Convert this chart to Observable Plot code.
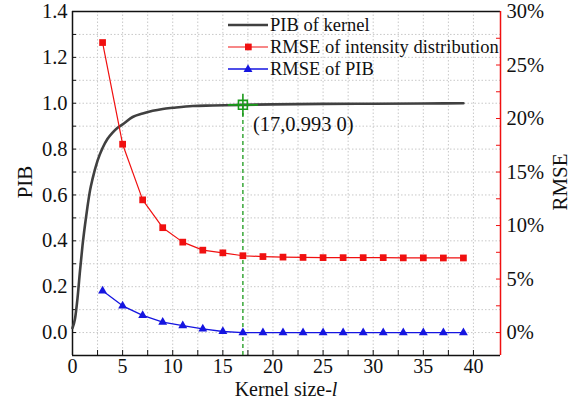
<!DOCTYPE html>
<html><head><meta charset="utf-8">
<script src="https://cdn.jsdelivr.net/npm/d3@7"></script>
<script src="https://cdn.jsdelivr.net/npm/@observablehq/plot@0.6"></script>
<style>
body{margin:0;background:#fff;}
#wrap{position:relative;width:574px;height:400px;font-family:"Liberation Serif","Times New Roman",serif;color:#111;}
#xlabel{position:absolute;left:72px;width:428px;top:379px;text-align:center;font-size:20px;line-height:20px;}
.ytitle{position:absolute;font-size:21px;line-height:21px;white-space:nowrap;transform:translate(-50%,-50%) rotate(-90deg);}
#legend{position:absolute;left:226px;top:14px;font-size:18.5px;}
.row{display:flex;align-items:center;height:22px;white-space:nowrap;}
.row svg{margin-right:2px;}
</style></head><body><div id="wrap">
<div id="xlabel">Kernel size-<i>l</i></div>
<div class="ytitle" style="left:25px;top:182px;">PIB</div>
<div class="ytitle" style="left:560px;top:182px;">RMSE</div>
<div id="legend"></div></div>
<script>
// PIB of kernel (continuous curve)
const pibX = [0, 0.25, 0.5, 0.75, 1, 1.25, 1.5, 1.75, 2, 2.5, 3, 3.5, 4, 4.5, 5, 6, 7, 8, 9, 10, 12, 14, 17, 20, 25, 30, 35, 39];
const pibY = [0.02, 0.06, 0.15, 0.27, 0.38, 0.47, 0.55, 0.62, 0.67, 0.75, 0.805, 0.845, 0.872, 0.893, 0.908, 0.94, 0.955, 0.967, 0.975, 0.98, 0.988, 0.99, 0.993, 0.995, 0.997, 0.998, 0.999, 1.0];
// RMSE series (percent), kernel sizes 3..39
const kernelSizes = [3, 5, 7, 9, 11, 13, 15, 17, 19, 21, 23, 25, 27, 29, 31, 33, 35, 37, 39];
const rmseIntensity = [27.1, 17.6, 12.4, 9.8, 8.45, 7.7, 7.45, 7.18, 7.1, 7.05, 7.02, 7.0, 7.0, 7.0, 7.0, 6.98, 6.98, 6.97, 6.97];
const rmsePIB = [3.9, 2.5, 1.6, 0.97, 0.64, 0.35, 0.1, 0.0, 0.0, 0.0, 0.0, 0.0, 0.0, 0.0, 0.0, 0.0, 0.0, 0.0, 0.0];
// ticks
const xTicks = [0, 5, 10, 15, 20, 25, 30, 35, 40];
const xMinor = [2.5, 7.5, 12.5, 17.5, 22.5, 27.5, 32.5, 37.5];
const leftTicks = [0, 0.2, 0.4, 0.6, 0.8, 1.0, 1.2, 1.4];
const leftMinor = [0.1, 0.3, 0.5, 0.7, 0.9, 1.1, 1.3];
const rightTicks = [0, 5, 10, 15, 20, 25, 30];
const rightMinor = [2.5, 7.5, 12.5, 17.5, 22.5, 27.5];
const xDomain = [0, 42.7];
const yDomain = [-0.1, 1.4];
const rightMax = 30; // 30% aligns with 1.4
const annotation = [{x: 17, y: 0.993, label: "(17,0.993 0)"}];
const legendLabels = ["PIB of kernel", "RMSE of intensity distribution", "RMSE of PIB"];

const toLeft = p => p * yDomain[1] / rightMax;
const colGray = "#404040", colRed = "#f01010", colBlue = "#1515e0", colGreen = "#1a9a1a", colGrid = "#c8c8c8";

const pib = pibX.map((x, i) => ({x, y: pibY[i]}));
const red = kernelSizes.map((x, i) => ({x, y: toLeft(rmseIntensity[i])}));
const blue = kernelSizes.map((x, i) => ({x, y: toLeft(rmsePIB[i])}));
const gridXs = xMinor.concat(xTicks.slice(1));
const gridYs = leftTicks.concat(leftMinor).filter(v => v < yDomain[1]);

const plusSymbol = {draw(ctx) { ctx.moveTo(-15, 0); ctx.lineTo(15, 0); ctx.moveTo(0, -11); ctx.lineTo(0, 11); }};
const font = {fontSize: 20.5, fontFamily: "Liberation Serif"};

const chart = Plot.plot({
  width: 574, height: 400,
  marginLeft: 72, marginRight: 74, marginTop: 11, marginBottom: 45,
  style: {fontFamily: "'Liberation Serif', 'Times New Roman', serif", background: "white", color: "#111"},
  x: {domain: xDomain},
  y: {domain: yDomain},
  marks: [
    Plot.gridX(gridXs, {stroke: colGrid, strokeOpacity: 1, strokeDasharray: "1.5,2"}),
    Plot.gridY(gridYs, {stroke: colGrid, strokeOpacity: 1, strokeDasharray: "1.5,2"}),
    // x axis
    Plot.axisX(xTicks, {tickSize: 0, tickPadding: 3, ...font, fontSize: 20, label: null}),
    Plot.axisX(xTicks.concat(xMinor), {tickSize: -5, tickFormat: () => "", label: null}),
    // left axis
    Plot.axisY(leftTicks, {anchor: "left", tickSize: 0, tickPadding: 5, tickFormat: d3.format(".1f"), ...font, label: null}),
    Plot.axisY(leftTicks.concat(leftMinor), {anchor: "left", tickSize: -4, tickFormat: () => "", label: null}),
    // right axis (RMSE %)
    Plot.axisY(rightTicks.map(toLeft), {anchor: "right", tickSize: 0, tickPadding: 6, tickFormat: d => Math.round(d * rightMax / yDomain[1]) + "%", ...font, label: null}),
    Plot.axisY(rightTicks.concat(rightMinor).map(toLeft), {anchor: "right", tickSize: -5, tickFormat: () => "", stroke: colRed, label: null}),
    // frame
    Plot.ruleY([yDomain[0]], {stroke: "#111", strokeWidth: 1.5}),
    Plot.ruleY([yDomain[1]], {stroke: "#111", strokeWidth: 1.5}),
    Plot.ruleX([xDomain[0]], {stroke: "#111", strokeWidth: 1.5}),
    Plot.ruleX([xDomain[1]], {stroke: colRed, strokeWidth: 1.5}),
    // annotation dashed line
    Plot.ruleX(annotation, {x: "x", y1: yDomain[0], y2: "y", stroke: colGreen, strokeWidth: 1.3, strokeDasharray: "4,3"}),
    // series
    Plot.line(pib, {x: "x", y: "y", stroke: colGray, strokeWidth: 2.6, curve: "monotone-x"}),
    Plot.line(red, {x: "x", y: "y", stroke: colRed, strokeWidth: 1.2}),
    Plot.dot(red, {x: "x", y: "y", symbol: "square", r: 3.8, fill: colRed, stroke: "none"}),
    Plot.line(blue, {x: "x", y: "y", stroke: colBlue, strokeWidth: 1.3}),
    Plot.dot(blue, {x: "x", y: "y", symbol: "triangle", r: 3.3, fill: colBlue, stroke: "none"}),
    // annotation marker
    Plot.dot(annotation, {x: "x", y: "y", symbol: plusSymbol, stroke: colGreen, strokeWidth: 1.6, fill: "none"}),
    Plot.dot(annotation, {x: "x", y: "y", symbol: "square", r: 5, stroke: colGreen, strokeWidth: 1.6, fill: "none"}),
    Plot.text(annotation, {x: "x", y: "y", text: "label", dx: 10, dy: 20, textAnchor: "start", ...font})
  ]
});
document.getElementById("wrap").prepend(chart);

// legend
const legend = d3.select("#legend");
const legendStyles = [
  {stroke: colGray, width: 2.6, marker: null},
  {stroke: colRed, width: 1.2, marker: "square"},
  {stroke: colBlue, width: 1.3, marker: "triangle"}
];
legendLabels.forEach((lab, i) => {
  const st = legendStyles[i];
  const row = legend.append("div").attr("class", "row");
  const svg = row.append("svg").attr("width", 42).attr("height", 22);
  svg.append("line").attr("x1", 2).attr("x2", 42).attr("y1", 11).attr("y2", 11).attr("stroke", st.stroke).attr("stroke-width", st.width);
  if (st.marker === "square") svg.append("rect").attr("x", 19).attr("y", 7.6).attr("width", 6.7).attr("height", 6.7).attr("fill", st.stroke);
  if (st.marker === "triangle") svg.append("path").attr("transform", "translate(22,11.5)").attr("d", d3.symbol(d3.symbolTriangle, 3.3 * 3.3 * Math.PI)()).attr("fill", st.stroke);
  row.append("span").text(lab);
});
</script>
</body></html>
